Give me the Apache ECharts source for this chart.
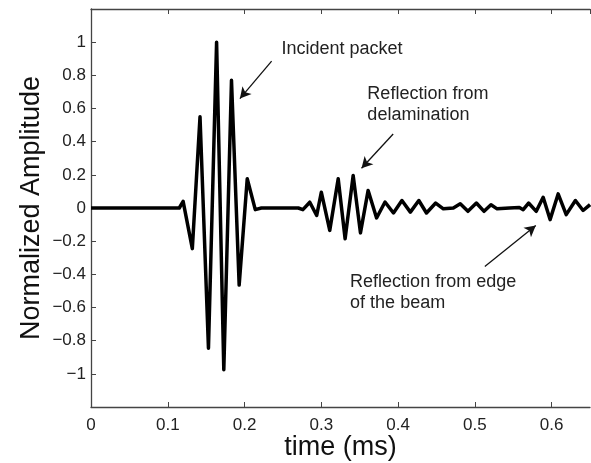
<!DOCTYPE html>
<html><head><meta charset="utf-8">
<script src="https://cdn.jsdelivr.net/npm/echarts@6/dist/echarts.min.js"></script>
<style>html,body{margin:0;padding:0;background:#fff}#c{width:591px;height:463px}</style>
</head><body><div id="c"></div>
<script>
// Time (ms) of each sampled vertex of the waveform
const timeMs = [
  0.000, 0.115, 0.120, 0.132, 0.142, 0.153, 0.1636, 0.173, 0.183, 0.193, 0.2035, 0.214, 0.222,
  0.270, 0.276, 0.285, 0.294, 0.300, 0.311, 0.322, 0.331, 0.3415, 0.351, 0.361, 0.372, 0.383,
  0.394, 0.405, 0.416, 0.427, 0.437, 0.449, 0.459, 0.472, 0.481, 0.491, 0.502, 0.512, 0.521,
  0.529, 0.545, 0.558, 0.563, 0.570, 0.580, 0.589, 0.598, 0.6085, 0.619, 0.631, 0.641, 0.650
];
// Normalized amplitude at those times
const amplitude = [
  0.000, 0.000, 0.040, -0.245, 0.550, -0.845, 1.000, -0.975, 0.770, -0.465, 0.176, -0.010, 0.000,
  0.000, -0.010, 0.035, -0.045, 0.095, -0.135, 0.176, -0.185, 0.196, -0.150, 0.106, -0.060, 0.036,
  -0.030, 0.045, -0.025, 0.045, -0.030, 0.030, -0.005, 0.000, 0.025, -0.020, 0.030, -0.020, 0.020,
  -0.005, 0.000, 0.003, -0.010, 0.030, -0.020, 0.065, -0.070, 0.085, -0.040, 0.045, -0.015, 0.020
];
const xTickValues = [0, 0.1, 0.2, 0.3, 0.4, 0.5, 0.6];
const xAxisTitle = 'time (ms)';
const yAxisTitle = 'Normalized Amplitude';
// annotation texts with anchor (data coords) and arrow from/to (data coords)
const annotationTexts = ['Incident packet', 'Reflection from\ndelamination', 'Reflection from edge\nof the beam'];
const annotationAnchors = [[0.248, 0.957], [0.360, 0.624], [0.3375, -0.509]];
const arrowFrom = [[0.2353, 0.886], [0.3936, 0.446], [0.513, -0.353]];
const arrowTo = [[0.194, 0.66], [0.3524, 0.240], [0.5794, -0.106]];

const FONT = '"Liberation Sans", Arial, Helvetica, sans-serif';
const chart = echarts.init(document.getElementById('c'), null, {renderer: 'canvas'});
const fmtY = v => {
  if (Math.abs(Math.abs(v) - 1.2) < 1e-9) return '';
  const s = String(+v.toFixed(1));
  return s === '-0' ? '0' : s.replace('-', '\u2212');
};
const fmtX = v => {
  const ok = xTickValues.some(t => Math.abs(t - v) < 1e-9);
  return ok ? String(+v.toFixed(1)) : '';
};
const axisLine = {show: true, onZero: false, lineStyle: {color: '#444', width: 1.3}};
const data = timeMs.map((t, i) => [t, amplitude[i]]);
chart.setOption({
  animation: false,
  backgroundColor: '#fff',
  grid: {left: 91, top: 9, right: 1, bottom: 56, containLabel: false, outerBoundsMode: 'none'},
  xAxis: [{
    type: 'value', min: 0, max: 0.65, interval: 0.1, position: 'bottom',
    axisLine, axisTick: {show: true, inside: true, length: 5, lineStyle: {color: '#444'}},
    splitLine: {show: false},
    axisLabel: {formatter: fmtX, color: '#222', fontSize: 17, fontFamily: FONT, margin: 10, showMaxLabel: false},
    name: xAxisTitle, nameLocation: 'middle', nameGap: 27, nameMoveOverlap: false,
    nameTextStyle: {color: '#111', fontSize: 27, fontFamily: FONT}
  }, {
    type: 'value', min: 0, max: 0.65, interval: 0.1, position: 'top',
    axisLine, axisTick: {show: true, inside: true, length: 5, lineStyle: {color: '#444'}},
    splitLine: {show: false}, axisLabel: {show: false}
  }],
  yAxis: {
    type: 'value', min: -1.2, max: 1.2, interval: 0.2,
    axisLine, axisTick: {show: true, inside: true, length: 5, lineStyle: {color: '#444'}},
    splitLine: {show: false},
    axisLabel: {formatter: fmtY, color: '#222', fontSize: 17, fontFamily: FONT, margin: 5},
    name: yAxisTitle, nameLocation: 'middle', nameGap: 46, nameMoveOverlap: false,
    nameTextStyle: {color: '#111', fontSize: 27, fontFamily: FONT}
  },
  series: [{
    type: 'line', xAxisIndex: 0, data, showSymbol: false, symbol: 'none',
    lineStyle: {color: '#000', width: 3.5, join: 'round'},
    z: 3,
    markLine: {
      silent: true, symbol: ['none', 'arrow'], symbolSize: [9, 11],
      lineStyle: {color: '#111', width: 1.3, type: 'solid'},
      label: {show: false},
      data: arrowFrom.map((f, i) => [{coord: f}, {coord: arrowTo[i]}])
    }
  }]
});
const texts = annotationTexts.map((t, i) => {
  const p = chart.convertToPixel({gridIndex: 0}, annotationAnchors[i]);
  return {
    type: 'text', x: p[0], y: p[1],
    style: {text: t, fill: '#222', font: '18px ' + FONT, lineHeight: 21,
            textAlign: 'left', textVerticalAlign: 'middle'}
  };
});
chart.setOption({graphic: texts});
</script></body></html>
